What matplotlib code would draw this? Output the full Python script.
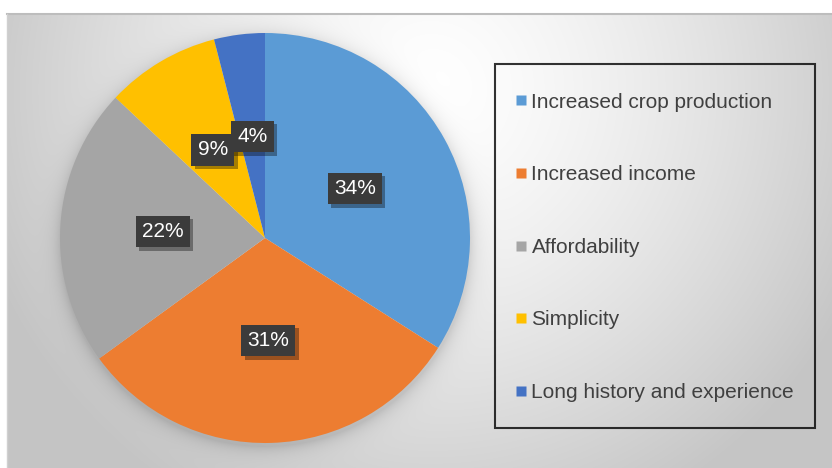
import numpy as np
import matplotlib
matplotlib.use("Agg")
import matplotlib.pyplot as plt
from matplotlib.lines import Line2D
from matplotlib.legend_handler import HandlerLine2D
import matplotlib.patheffects as pe

plt.rcParams['font.family'] = ['Liberation Sans', 'DejaVu Sans']

# Data
categories = ["Increased crop production", "Increased income", "Affordability",
              "Simplicity", "Long history and experience"]
shares = [34, 31, 22, 9, 4]
colors = ["#5B9BD5", "#ED7D31", "#A5A5A5", "#FFC000", "#4472C4"]

W, H = 832, 468
fig = plt.figure(figsize=(W / 100, H / 100), dpi=100)
fig.patch.set_facecolor("white")

# Radial gradient background with soft shadow around the pie
bg_left, bg_top = 7, 14
bg = fig.add_axes([bg_left / W, 0, (W - bg_left) / W, (H - bg_top) / H])
yy, xx = np.mgrid[bg_top:H, bg_left:W].astype(float)
d = np.hypot(xx - 430, yy - 90)
grey = 255 - 58 * np.clip(d / 470, 0, 1) ** 1.4
cx, cy, R = 265, 238, 205
dp = np.hypot(xx - cx, yy - cy - 3) - R
grey -= 30 * np.exp(-np.clip(dp, 0, None) / 8) * (dp > -5)
img = np.clip(grey, 0, 255) / 255
bg.imshow(np.dstack([img, img, img]), aspect="auto", interpolation="bilinear")
bg.set_axis_off()
fig.add_artist(Line2D([bg_left / W, 1], [1 - bg_top / H, 1 - bg_top / H],
                      color="#bdbdbd", lw=1.5))
fig.add_artist(Line2D([bg_left / W, bg_left / W], [0, 1 - bg_top / H],
                      color="#d0d0d0", lw=1))

# Pie
ax = fig.add_axes([(cx - R) / W, (H - cy - R) / H, 2 * R / W, 2 * R / H])
wedges, texts, autotexts = ax.pie(
    shares, colors=colors, startangle=90, counterclock=False,
    autopct="%d%%", pctdistance=0.5, radius=1.0,
    wedgeprops=dict(linewidth=0),
    textprops=dict(color="white", fontsize=15))
for t in autotexts:
    t.set_bbox(dict(boxstyle="square,pad=0.3", facecolor="#3b3b3b", edgecolor="none"))
    t.get_bbox_patch().set_path_effects([
        pe.withSimplePatchShadow(offset=(2.5, -2.5), shadow_rgbFace="black", alpha=0.35)])
ax.set_xlim(-1, 1)
ax.set_ylim(-1, 1)
ax.set_axis_off()


class LoweredMarker(HandlerLine2D):
    # nudge the square down so it sits on the text's middle
    def create_artists(self, legend, orig_handle, xdescent, ydescent,
                       width, height, fontsize, trans):
        arts = super().create_artists(legend, orig_handle, xdescent, ydescent,
                                      width, height, fontsize, trans)
        for a in arts:
            a.set_ydata(np.asarray(a.get_ydata()) - 0.2 * fontsize)
        return arts


# Legend
handles = [Line2D([], [], marker="s", linestyle="none", markersize=7.2,
                  markerfacecolor=c, markeredgecolor="none") for c in colors]
leg = fig.legend(handles, categories, loc="upper left",
                 bbox_to_anchor=(495 / W, 1 - 64 / H, (815 - 495) / W, 0),
                 mode="expand", fontsize=15, frameon=True, fancybox=False,
                 labelspacing=1.94, borderpad=1.0, handlelength=0.5, handleheight=2.0,
                 handletextpad=0.25, borderaxespad=0,
                 handler_map={Line2D: LoweredMarker()})
leg.get_frame().set_edgecolor("black")
leg.get_frame().set_linewidth(1.5)
leg.get_frame().set_facecolor("none")
for t in leg.get_texts():
    t.set_color("#404040")

fig.savefig("out.png", dpi=100)
